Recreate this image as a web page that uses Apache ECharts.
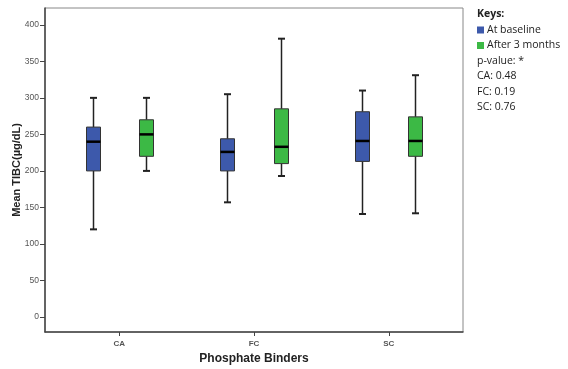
<!DOCTYPE html>
<html>
<head>
<meta charset="utf-8">
<script src="https://cdn.jsdelivr.net/npm/echarts@6/dist/echarts.min.js"></script>
<style>html,body{margin:0;padding:0;background:#fff}#c{width:568px;height:369px}</style>
</head>
<body>
<div id="c"></div>
<script>
const categories = ['CA', 'FC', 'SC'];
// [min, Q1, median, Q3, max]
const baseline = [
  [120, 200, 240, 260, 300],
  [157, 200, 226, 244, 305],
  [141, 213, 241, 281, 310]
];
const after3 = [
  [200, 220, 250, 270, 300],
  [193, 210, 233, 285, 381],
  [142, 220, 241, 274, 331]
];
const yTicks = [0, 50, 100, 150, 200, 250, 300, 350, 400];
const legendLines = ['Keys:', 'At baseline', 'After 3 months', 'p-value: *', 'CA: 0.48', 'FC: 0.19', 'SC: 0.76'];
const seriesNames = ['At baseline', 'After 3 months'];

const colors = ['#3d59ab', '#3cb945'];

function toData(arr) { return arr.map((v, i) => [i].concat(v)); }

function makeRender(offset, color) {
  return function (params, api) {
    const x = api.value(0) + offset;
    const pMin = api.coord([x, api.value(1)]);
    const pQ1 = api.coord([x, api.value(2)]);
    const pMed = api.coord([x, api.value(3)]);
    const pQ3 = api.coord([x, api.value(4)]);
    const pMax = api.coord([x, api.value(5)]);
    const cx = Math.round(pMin[0]) + 0.5;
    const bw = 14, cap = 7;
    const ws = { stroke: '#222', lineWidth: 1.5 };
    return {
      type: 'group',
      children: [
        { type: 'line', shape: { x1: cx, y1: pMax[1], x2: cx, y2: pQ3[1] }, style: ws },
        { type: 'line', shape: { x1: cx, y1: pQ1[1], x2: cx, y2: pMin[1] }, style: ws },
        { type: 'line', shape: { x1: cx - cap / 2, y1: pMax[1], x2: cx + cap / 2, y2: pMax[1] }, style: { stroke: '#222', lineWidth: 2 } },
        { type: 'line', shape: { x1: cx - cap / 2, y1: pMin[1], x2: cx + cap / 2, y2: pMin[1] }, style: { stroke: '#222', lineWidth: 2 } },
        { type: 'rect', shape: { x: cx - bw / 2, y: pQ3[1], width: bw, height: pQ1[1] - pQ3[1] }, style: { fill: color, stroke: '#333', lineWidth: 1 } },
        { type: 'line', shape: { x1: cx - bw / 2, y1: pMed[1], x2: cx + bw / 2, y2: pMed[1] }, style: { stroke: '#000', lineWidth: 2.5 } }
      ]
    };
  };
}

const chart = echarts.init(document.getElementById('c'), null, { renderer: 'canvas' });

const legendGraphics = [];
const lx = 477, ly0 = 16, lstep = 15.5;
legendLines.forEach((t, i) => {
  const isKey = i === 1 || i === 2;
  if (isKey) {
    legendGraphics.push({ type: 'rect', left: lx, top: ly0 + i * lstep - 5, shape: { width: 7, height: 7 }, style: { fill: colors[i - 1] } });
  }
  legendGraphics.push({
    type: 'text', left: isKey ? lx + 10 : lx, top: ly0 + i * lstep - 7,
    style: { text: t, fill: '#222', font: (i === 0 ? 'bold ' : '') + '10.5px "Open Sans", sans-serif' }
  });
});

chart.setOption({
  animation: false,
  backgroundColor: '#fff',
  grid: { left: 45, top: 8, right: 105, bottom: 37, show: true, borderColor: '#888', borderWidth: 1, containLabel: false, outerBoundsMode: 'none' },
  xAxis: {
    type: 'value', min: -0.55, max: 2.55,
    name: 'Phosphate Binders', nameLocation: 'middle', nameGap: 21, nameMoveOverlap: false,
    nameTextStyle: { fontWeight: 'bold', fontSize: 12, color: '#222', fontFamily: 'Liberation Sans' },
    axisLine: { show: true, onZero: false, lineStyle: { color: '#444', width: 1.5 } },
    axisTick: { show: true, inside: false, length: 4, customValues: [0, 1, 2], lineStyle: { color: '#444' } },
    axisLabel: { customValues: [0, 1, 2], formatter: v => categories[Math.round(v)], fontSize: 8, color: '#555', fontWeight: 'bold', margin: 8, fontFamily: 'Liberation Sans' },
    splitLine: { show: false }
  },
  yAxis: {
    type: 'value', min: -20.5, max: 423,
    name: 'Mean TIBC(µg/dL)', nameLocation: 'middle', nameGap: 23, nameRotate: 90, nameMoveOverlap: false,
    nameTextStyle: { fontWeight: 'bold', fontSize: 11, color: '#222', fontFamily: 'Liberation Sans' },
    axisLine: { show: true, onZero: false, lineStyle: { color: '#444', width: 1.5 } },
    axisTick: { show: true, inside: false, length: 5, customValues: yTicks, lineStyle: { color: '#444' } },
    axisLabel: { customValues: yTicks, fontSize: 8.5, color: '#555', margin: 6, fontFamily: 'Liberation Sans' },
    splitLine: { show: false }
  },
  series: [
    { name: seriesNames[0], type: 'custom', renderItem: makeRender(-0.197, colors[0]), data: toData(baseline), encode: { x: 0, y: [1, 2, 3, 4, 5] } },
    { name: seriesNames[1], type: 'custom', renderItem: makeRender(0.197, colors[1]), data: toData(after3), encode: { x: 0, y: [1, 2, 3, 4, 5] } }
  ],
  graphic: legendGraphics
});
</script>
</body>
</html>
